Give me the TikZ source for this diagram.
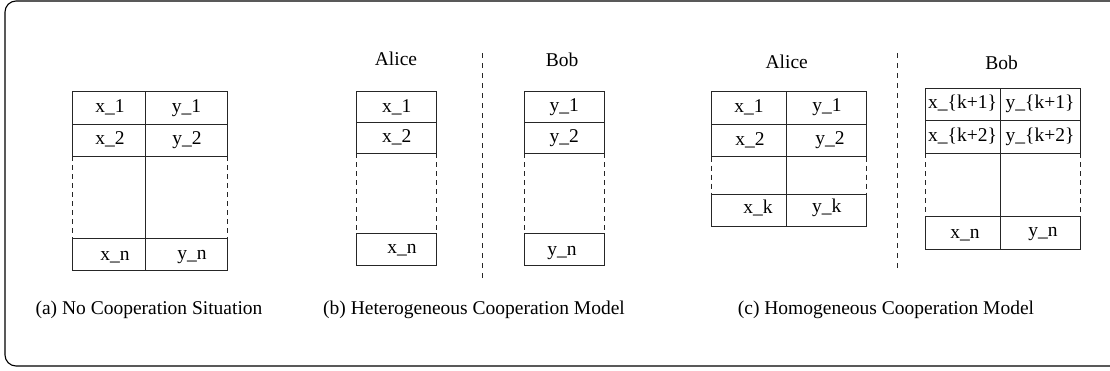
\documentclass[tikz,border=0pt]{standalone}
\usepackage{fontspec}
\setmainfont{Liberation Serif}
\begin{document}
\begin{tikzpicture}[x=1pt,y=-1pt,
  every node/.style={font=\fontsize{19.5}{23}\selectfont, inner sep=0pt, text height=0.7em, text depth=0.22em},
  tline/.style={line width=0.9pt, draw=black!85},
  dline/.style={line width=0.9pt, draw=black!85, dash pattern=on 5pt off 4pt},
  divider/.style={line width=0.9pt, draw=black!85, dash pattern=on 5pt off 5pt}]
\useasboundingbox (0,0) rectangle (1110,370);
\draw[line width=1.1pt, rounded corners=11pt] (5,1) rectangle (1125,366);

% ---------- panel (a) ----------
\draw[tline] (72,91) rectangle (227,156);
\draw[tline] (72,124) -- (227,124);
\draw[tline] (145.5,91) -- (145.5,270);
\draw[tline] (72,238) rectangle (227,270);
\draw[dline] (72,156) -- (72,238);
\draw[dline] (227,156) -- (227,238);
\node (a1) at (110,110) {x\_1};
\node (b1) at (186.5,110) {y\_1};
\node (a2) at (110,142.5) {x\_2};
\node (b2) at (187,142.5) {y\_2};
\node (an) at (115,258) {x\_n};
\node (bn) at (192,257) {y\_n};
\node (capa) at (149,312) {(a) No Cooperation Situation};

% ---------- panel (b) ----------
\node (alb) at (396,63) {Alice};
\node (bob) at (562,64) {Bob};
\draw[divider] (482,53) -- (482,282);
% Alice
\draw[tline] (356.7,91) rectangle (436.7,153.3);
\draw[tline] (356.7,122) -- (436.7,122);
\draw[tline] (356.7,233.3) rectangle (436.7,265);
\draw[dline] (356.7,153.3) -- (356.7,233.3);
\draw[dline] (436.7,153.3) -- (436.7,233.3);
\node (ba1) at (396.7,110) {x\_1};
\node (ba2) at (396.7,140.5) {x\_2};
\node (ban) at (402,251.5) {x\_n};
% Bob
\draw[tline] (524.3,91) rectangle (604.3,153.3);
\draw[tline] (524.3,122) -- (604.3,122);
\draw[tline] (524.3,233.3) rectangle (604.3,265);
\draw[dline] (524.3,153.3) -- (524.3,233.3);
\draw[dline] (604.3,153.3) -- (604.3,233.3);
\node (bb1) at (564.3,109.5) {y\_1};
\node (bb2) at (564.3,140.5) {y\_2};
\node (bbn) at (562,253.5) {y\_n};
\node (capb) at (474,312) {(b) Heterogeneous Cooperation Model};

% ---------- panel (c) ----------
\node (alc) at (786.7,66) {Alice};
\node (boc) at (1001.7,67) {Bob};
\draw[divider] (897.3,53) -- (897.3,272);
% Alice
\draw[tline] (711.7,91) rectangle (866.7,156.7);
\draw[tline] (711.7,124) -- (866.7,124);
\draw[tline] (786.7,91) -- (786.7,226);
\draw[tline] (711.7,194) rectangle (866.7,226);
\draw[dline] (711.7,156.7) -- (711.7,194);
\draw[dline] (866.7,156.7) -- (866.7,194);
\node (ca1) at (749,110) {x\_1};
\node (cb1) at (827,109.5) {y\_1};
\node (ca2) at (750,143) {x\_2};
\node (cb2) at (830,142.5) {y\_2};
\node (cak) at (758,211.5) {x\_k};
\node (cbk) at (826.7,210.5) {y\_k};
% Bob
\draw[tline] (925,88.3) rectangle (1080,153.3);
\draw[tline] (925,120.3) -- (1080,120.3);
\draw[tline] (1000,88.3) -- (1000,249.3);
\draw[tline] (925,216.7) rectangle (1080,249.3);
\draw[dline] (925,153.3) -- (925,216.7);
\draw[dline] (1080,153.3) -- (1080,216.7);
\node (cx1) at (962.5,106.5) {x\_\{k+1\}};
\node (cy1) at (1040,106.5) {y\_\{k+1\}};
\node (cx2) at (962.5,139) {x\_\{k+2\}};
\node (cy2) at (1040,139) {y\_\{k+2\}};
\node (cxn) at (965,236) {x\_n};
\node (cyn) at (1043,234.5) {y\_n};
\node (capc) at (886,312) {(c) Homogeneous Cooperation Model};
\end{tikzpicture}
\end{document}
